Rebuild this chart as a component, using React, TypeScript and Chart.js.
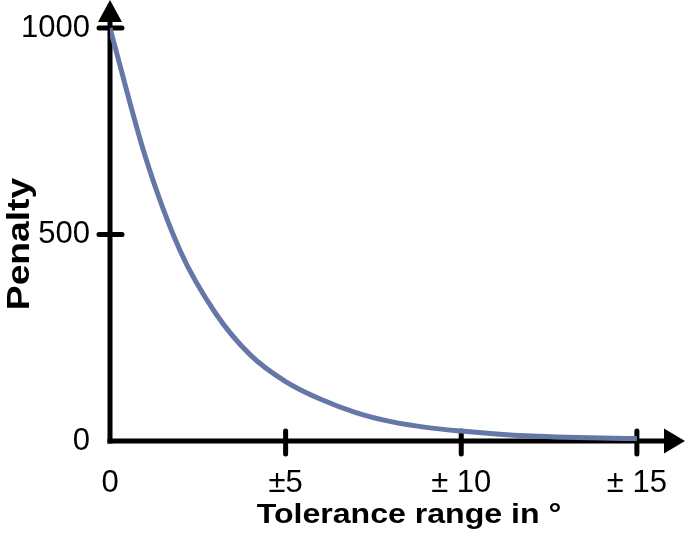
import React, { useEffect, useRef } from 'react';
import { Chart, registerables } from 'chart.js';

Chart.register(...registerables);

const xValues = [0, 1, 2, 3, 4, 5, 6, 7, 8, 9, 10, 11, 12, 13, 14, 15];
const penalty = [1000, 690, 460, 310, 208, 144, 101, 69, 47, 33, 24, 17, 12, 9, 7, 6];
const xTickValues = [0, 5, 10, 15];
const xTickLabels = ['0', '±5', '± 10', '± 15'];
const yTickValues = [0, 500, 1000];
const yTickLabels = ['0', '500', '1000'];
const xTitle = 'Tolerance range in °';
const yTitle = 'Penalty';

const FONT = '"Liberation Sans", Arial, sans-serif';
const LINE_COLOR = '#6577a6';

const arrowAxes = {
  id: 'arrowAxes',
  beforeDatasetsDraw(chart: any) {
    const { ctx, scales, chartArea } = chart;
    const xs = scales.x;
    const ys = scales.y;
    const x0 = xs.getPixelForValue(0);
    const y0 = ys.getPixelForValue(0);
    const right = chartArea.right;
    const top = chartArea.top;
    ctx.save();
    ctx.strokeStyle = '#000';
    ctx.fillStyle = '#000';
    ctx.lineWidth = 5;
    ctx.lineCap = 'butt';
    // y axis
    ctx.beginPath();
    ctx.moveTo(x0, y0 + 2.5);
    ctx.lineTo(x0, top + 18);
    ctx.stroke();
    ctx.beginPath();
    ctx.moveTo(x0, top);
    ctx.lineTo(x0 - 12, top + 22);
    ctx.lineTo(x0 + 12, top + 22);
    ctx.closePath();
    ctx.fill();
    // x axis
    ctx.beginPath();
    ctx.moveTo(x0 - 2.5, y0);
    ctx.lineTo(right - 18, y0);
    ctx.stroke();
    ctx.beginPath();
    ctx.moveTo(right, y0);
    ctx.lineTo(right - 21, y0 - 12.5);
    ctx.lineTo(right - 21, y0 + 12.5);
    ctx.closePath();
    ctx.fill();
    // ticks
    ctx.lineCap = 'round';
    yTickValues.filter((v) => v > 0).forEach((v) => {
      const py = ys.getPixelForValue(v);
      ctx.beginPath();
      ctx.moveTo(x0 - 11, py);
      ctx.lineTo(x0 + 12, py);
      ctx.stroke();
    });
    xTickValues.filter((v) => v > 0).forEach((v) => {
      const px = xs.getPixelForValue(v);
      ctx.beginPath();
      ctx.moveTo(px, y0 - 10);
      ctx.lineTo(px, y0 + 13);
      ctx.stroke();
    });
    ctx.restore();
  },
  afterDraw(chart: any) {
    const { ctx } = chart;
    ctx.save();
    ctx.fillStyle = '#000';
    ctx.textAlign = 'center';
    ctx.textBaseline = 'alphabetic';
    // x title
    ctx.font = `bold 28px ${FONT}`;
    ctx.save();
    ctx.translate(409, 523);
    ctx.scale(1.146, 1);
    ctx.fillText(xTitle, 0, 0);
    ctx.restore();
    // y title
    ctx.font = `bold 31px ${FONT}`;
    ctx.save();
    ctx.translate(29, 244);
    ctx.rotate(-Math.PI / 2);
    ctx.scale(1.2, 1);
    ctx.fillText(yTitle, 0, 0);
    ctx.restore();
    ctx.restore();
  },
};

export default function App() {
  const canvasRef = useRef<HTMLCanvasElement | null>(null);

  useEffect(() => {
    if (!canvasRef.current) return;
    const chart = new Chart(canvasRef.current, {
      type: 'line',
      data: {
        datasets: [
          {
            data: xValues.map((x, i) => ({ x, y: penalty[i] })),
            borderColor: LINE_COLOR,
            borderWidth: 5,
            pointRadius: 0,
            cubicInterpolationMode: 'monotone',
            fill: false,
          },
        ],
      },
      options: {
        animation: false,
        responsive: true,
        maintainAspectRatio: false,
        layout: { padding: 0 },
        plugins: { legend: { display: false }, tooltip: { enabled: false } },
        scales: {
          x: {
            type: 'linear',
            min: 0,
            max: 16.37,
            border: { display: false },
            grid: { display: false, drawTicks: false },
            afterFit: (s: any) => {
              s.height = 95;
              s.paddingLeft = 0;
              s.paddingRight = 0;
            },
            afterBuildTicks: (s: any) => {
              s.ticks = xTickValues.map((v) => ({ value: v }));
            },
            ticks: {
              padding: 24,
              maxRotation: 0,
              autoSkip: false,
              color: '#000',
              font: { family: FONT, size: 31 },
              callback: (v: any) => {
                const i = xTickValues.indexOf(Number(v));
                return i >= 0 ? xTickLabels[i] : '';
              },
            },
          },
          y: {
            type: 'linear',
            min: 0,
            max: 1068,
            border: { display: false },
            grid: { display: false, drawTicks: false },
            afterFit: (s: any) => {
              s.width = 110;
              s.paddingTop = 0;
              s.paddingBottom = 0;
            },
            afterBuildTicks: (s: any) => {
              s.ticks = yTickValues.map((v) => ({ value: v }));
            },
            ticks: {
              padding: 20,
              autoSkip: false,
              color: '#000',
              font: { family: FONT, size: 31 },
              callback: (v: any) => {
                const i = yTickValues.indexOf(Number(v));
                return i >= 0 ? yTickLabels[i] : '';
              },
            },
          },
        },
      },
      plugins: [arrowAxes],
    });
    return () => chart.destroy();
  }, []);

  return (
    <div style={{ position: 'fixed', left: 0, top: 0, width: 685, height: 536, background: '#fff' }}>
      <canvas ref={canvasRef} />
    </div>
  );
}
